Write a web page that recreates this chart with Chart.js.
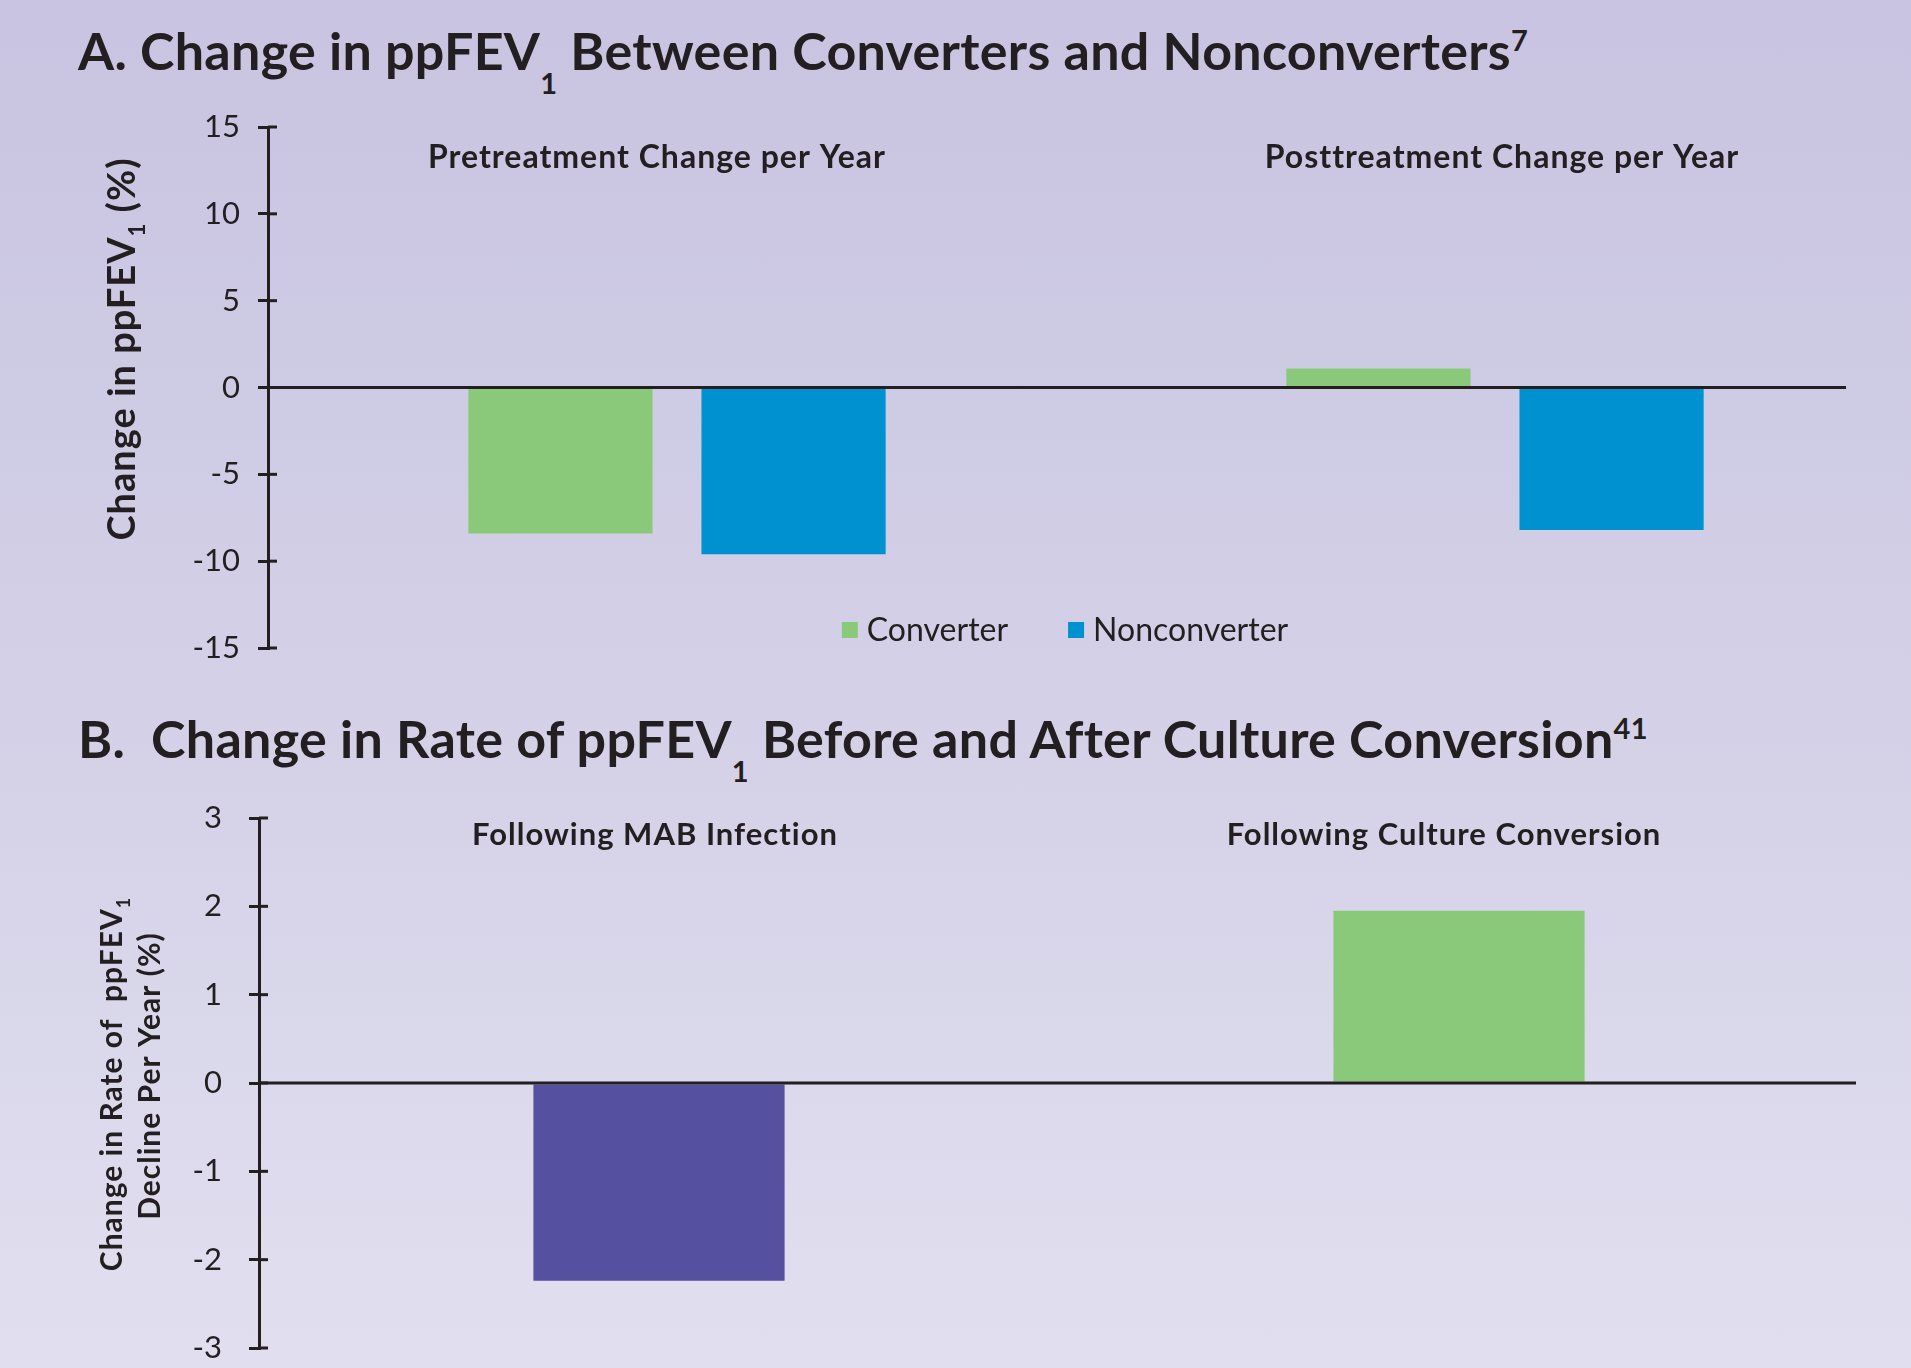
<!DOCTYPE html>
<html>
<head>
<meta charset="utf-8">
<script src="https://cdn.jsdelivr.net/npm/chart.js@4.4.1/dist/chart.umd.min.js"></script>
<style>
  html, body { margin: 0; padding: 0; }
  body {
    width: 1911px; height: 1368px; position: relative; overflow: hidden;
    background: linear-gradient(to bottom, #c8c4e1 0%, #d3d0e7 50%, #e1dfef 100%);
    font-family: Lato, "Open Sans", sans-serif; color: #231f20;
  }
  .panel-title {
    position: absolute; left: 78px; margin: 0;
    font-size: 52px; font-weight: 700; line-height: 62px; white-space: nowrap;
    letter-spacing: 0.3px;
  }
  .panel-title .sub, .panel-title .sup { font-size: 29px; position: relative; }
  .panel-title .sub { top: 24px; }
  .panel-title .sup { top: -19px; }
  .chart-box { position: absolute; left: 0; width: 1911px; }
</style>
</head>
<body>
<h1 class="panel-title" id="titleA" style="top:19px">A. Change in ppFEV<span class="sub">1</span> Between Converters and Nonconverters<span class="sup">7</span></h1>
<h1 class="panel-title" id="titleB" style="top:707px">B.&nbsp; Change in Rate of ppFEV<span class="sub">1</span> Before and After Culture Conversion<span class="sup">41</span></h1>

<div class="chart-box" style="top:0; height:700px"><canvas id="chartA"></canvas></div>
<div class="chart-box" style="top:700px; height:668px"><canvas id="chartB"></canvas></div>

<script>
// Panel A: yearly change in ppFEV1, converters vs nonconverters
const categoriesA = ['Pretreatment Change per Year', 'Posttreatment Change per Year'];
const converterValues = [-8.4, 1.1];
const nonconverterValues = [-9.6, -8.2];
const yTicksA = [-15, -10, -5, 0, 5, 10, 15];

// Panel B: change in rate of ppFEV1 decline per year
const categoriesB = ['Following MAB Infection', 'Following Culture Conversion'];
const rateChangeValues = [-2.24, 1.95];
const yTicksB = [-3, -2, -1, 0, 1, 2, 3];

const INK = '#231f20';
const GREEN = '#8ac97a';
const BLUE = '#0091d0';
const PURPLE = '#5650a0';
const FONT = 'Lato, "Open Sans", sans-serif';

// Per-panel decoration settings (kept outside Chart options so strings stay plain)
const decor = {
  chartA: {
    zeroLineEnd: 1846,
    captionFont: `700 32px ${FONT}`,
    captionSpacing: '1px',
    captionBaseline: 168,
    captionShift: [-20, 7],
    legend: { font: `400 32px ${FONT}`, baseline: 641, centerX: 1065, box: 16, boxGap: 9, itemGap: 60 },
    yTitle: [{
      x: 135, y: 349, spacing: '1px',
      runs: [
        { text: 'Change in ppFEV', font: `700 38px ${FONT}` },
        { text: '1', font: `700 22px ${FONT}`, shift: 10 },
        { text: ' (%)', font: `700 38px ${FONT}` }
      ]
    }]
  },
  chartB: {
    zeroLineEnd: 1856,
    captionFont: `700 31px ${FONT}`,
    captionSpacing: '1px',
    captionBaseline: 145,
    captionShift: [-4, -15],
    legend: null,
    yTitle: [
      {
        x: 122, y: 384, spacing: '1px',
        runs: [
          { text: 'Change in Rate of  ppFEV', font: `700 30px ${FONT}` },
          { text: '1', font: `700 18px ${FONT}`, shift: 8 }
        ]
      },
      {
        x: 160, y: 376, spacing: '1px',
        runs: [{ text: 'Decline Per Year (%)', font: `700 30px ${FONT}` }]
      }
    ]
  }
};

// Draws a run of text pieces (with baseline shifts) rotated to read bottom-to-top.
function drawVerticalRuns(ctx, line) {
  ctx.save();
  ctx.translate(line.x, line.y);
  ctx.rotate(-Math.PI / 2);
  ctx.textBaseline = 'alphabetic';
  ctx.textAlign = 'left';
  ctx.letterSpacing = line.spacing || '0px';
  const widths = line.runs.map(r => { ctx.font = r.font; return ctx.measureText(r.text).width; });
  const total = widths.reduce((a, b) => a + b, 0);
  let cx = -total / 2;
  line.runs.forEach((r, i) => {
    ctx.font = r.font;
    ctx.fillStyle = INK;
    ctx.fillText(r.text, cx, r.shift || 0);
    cx += widths[i];
  });
  ctx.restore();
}

// Zero line, inner tick halves, category captions, legend and axis title.
const panelDecor = {
  id: 'panelDecor',
  afterDatasetsDraw(chart) {
    const opts = decor[chart.canvas.id];
    const ctx = chart.ctx;
    const area = chart.chartArea;
    const y = chart.scales.y;
    const x = chart.scales.x;

    ctx.save();
    ctx.strokeStyle = INK;
    ctx.lineWidth = 3;
    // baseline at zero
    const y0 = y.getPixelForValue(0);
    ctx.beginPath();
    ctx.moveTo(area.left, y0);
    ctx.lineTo(opts.zeroLineEnd, y0);
    ctx.stroke();
    // tick marks continue a little to the right of the axis
    y.ticks.forEach(t => {
      const py = y.getPixelForValue(t.value);
      ctx.beginPath();
      ctx.moveTo(area.left, py);
      ctx.lineTo(area.left + 9, py);
      ctx.stroke();
    });

    // category captions inside the plot, near the top
    ctx.save();
    ctx.fillStyle = INK;
    ctx.font = opts.captionFont;
    ctx.letterSpacing = opts.captionSpacing;
    ctx.textAlign = 'center';
    ctx.textBaseline = 'alphabetic';
    chart.data.labels.forEach((lab, i) => {
      ctx.fillText(lab, x.getPixelForValue(i) + opts.captionShift[i], opts.captionBaseline);
    });
    ctx.restore();

    // legend inside the plot
    if (opts.legend) {
      const L = opts.legend;
      ctx.font = L.font;
      ctx.textAlign = 'left';
      ctx.textBaseline = 'alphabetic';
      const items = chart.data.datasets.map(ds => ({
        text: ds.label, color: ds.backgroundColor, w: ctx.measureText(ds.label).width
      }));
      let total = 0;
      items.forEach((it, i) => { total += L.box + L.boxGap + it.w + (i ? L.itemGap : 0); });
      let lx = L.centerX - total / 2;
      items.forEach(it => {
        ctx.fillStyle = it.color;
        ctx.fillRect(lx, L.baseline - 19, L.box, L.box);
        ctx.fillStyle = INK;
        ctx.fillText(it.text, lx + L.box + L.boxGap, L.baseline);
        lx += L.box + L.boxGap + it.w + L.itemGap;
      });
    }

    // rotated y-axis title lines
    opts.yTitle.forEach(line => drawVerticalRuns(ctx, line));
    ctx.restore();
  }
};

function fixedTicks(values) {
  return scale => { scale.ticks = values.map(v => ({ value: v })); };
}

function yScale(min, max, values, width, labelPad) {
  return {
    min, max,
    afterBuildTicks: fixedTicks(values),
    afterFit: s => { s.width = width; s.paddingTop = 0; s.paddingBottom = 0; },
    grid: { display: true, drawOnChartArea: false, drawTicks: true, tickLength: 10, color: INK, lineWidth: 3 },
    border: { display: true, color: INK, width: 3 },
    ticks: { color: INK, font: { family: FONT, size: 31 }, padding: labelPad, autoSkip: false }
  };
}

new Chart(document.getElementById('chartA'), {
  type: 'bar',
  data: {
    labels: categoriesA,
    datasets: [
      { label: 'Converter', data: converterValues, backgroundColor: GREEN },
      { label: 'Nonconverter', data: nonconverterValues, backgroundColor: BLUE }
    ]
  },
  options: {
    responsive: true, maintainAspectRatio: false, animation: false,
    layout: { padding: { top: 127, bottom: 52, left: 0, right: 7 } },
    datasets: { bar: { categoryPercentage: 0.57, barPercentage: 0.79 } },
    scales: {
      x: { display: false },
      y: yScale(-15, 15, yTicksA, 268, 18)
    },
    plugins: { legend: { display: false }, tooltip: { enabled: false } }
  },
  plugins: [panelDecor]
});

new Chart(document.getElementById('chartB'), {
  type: 'bar',
  data: {
    labels: categoriesB,
    datasets: [
      { label: 'Change in rate of ppFEV1 decline', data: rateChangeValues, backgroundColor: [PURPLE, GREEN] }
    ]
  },
  options: {
    responsive: true, maintainAspectRatio: false, animation: false,
    layout: { padding: { top: 118, bottom: 20, left: 0, right: 52 } },
    datasets: { bar: { categoryPercentage: 1, barPercentage: 0.314 } },
    scales: {
      x: { display: false },
      y: yScale(-3, 3, yTicksB, 259, 27)
    },
    plugins: { legend: { display: false }, tooltip: { enabled: false } }
  },
  plugins: [panelDecor]
});
</script>
</body>
</html>
